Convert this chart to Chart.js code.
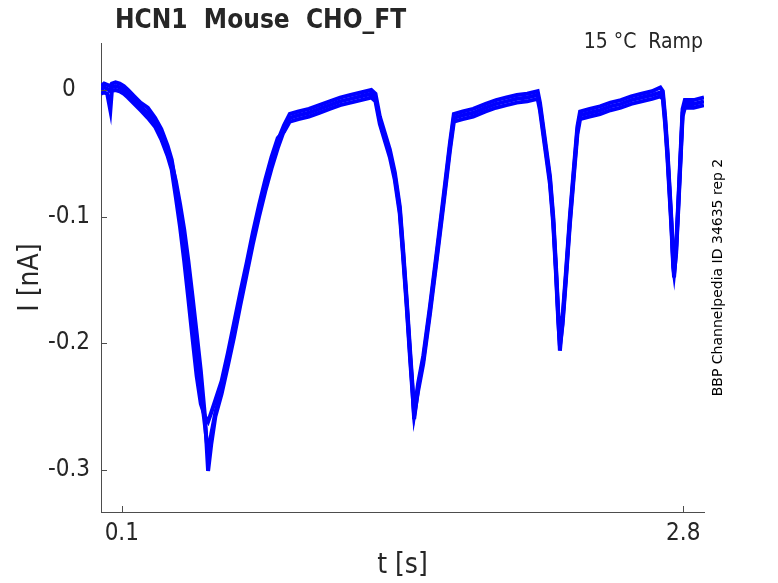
<!DOCTYPE html>
<html lang="en">
<head>
    <meta charset="UTF-8">
    <script src="https://cdn.jsdelivr.net/npm/chart.js"></script>
    <title>HCN1 Mouse CHO_FT</title>
    <style>
        body {
            margin: 0;
            background: #ffffff;
            overflow: hidden;
        }
    </style>
</head>
<body>
<canvas id="myChart" width="778" height="583"></canvas>
<script>
    // sample times [s], shared by the three sweeps
    const times = [
        0.000, 0.015, 0.030, 0.045, 0.052, 0.070, 0.090, 0.110, 0.130, 0.160,
        0.190, 0.225, 0.260, 0.290, 0.320, 0.340, 0.360, 0.380, 0.400, 0.420,
        0.440, 0.460, 0.480, 0.500, 0.515, 0.530, 0.550, 0.580, 0.610, 0.640,
        0.670, 0.700, 0.730, 0.760, 0.790, 0.820, 0.850, 0.880, 0.908, 0.950,
        1.000, 1.050, 1.100, 1.150, 1.200, 1.250, 1.300, 1.320, 1.341, 1.365,
        1.389, 1.413, 1.437, 1.453, 1.470, 1.486, 1.497, 1.506, 1.526, 1.550,
        1.582, 1.614, 1.646, 1.678, 1.697, 1.740, 1.790, 1.850, 1.900, 1.950,
        2.000, 2.050, 2.100, 2.111, 2.135, 2.159, 2.175, 2.188, 2.199, 2.207,
        2.220, 2.236, 2.255, 2.275, 2.291, 2.304, 2.350, 2.400, 2.450, 2.500,
        2.550, 2.600, 2.650, 2.690, 2.702, 2.713, 2.724, 2.733, 2.743, 2.752,
        2.756, 2.766, 2.777, 2.788, 2.797, 2.808, 2.850, 2.900
    ];

    // current [nA], sweep 1 (deepest first dip)
    const sweepA = [
        0.000, 0.002, 0.001, -0.001, 0.002, 0.003, 0.002, 0.000, -0.003, -0.008,
        -0.013, -0.018, -0.026, -0.035, -0.048, -0.058, -0.072, -0.090, -0.110, -0.135,
        -0.163, -0.192, -0.222, -0.258, -0.301, -0.280, -0.258, -0.240, -0.218, -0.195,
        -0.170, -0.146, -0.122, -0.100, -0.080, -0.062, -0.046, -0.032, -0.022, -0.020,
        -0.018, -0.015, -0.012, -0.009, -0.007, -0.005, -0.003, -0.006, -0.024, -0.037,
        -0.050, -0.068, -0.095, -0.129, -0.168, -0.208, -0.234, -0.260, -0.234, -0.213,
        -0.174, -0.132, -0.089, -0.045, -0.022, -0.020, -0.018, -0.014, -0.011, -0.009,
        -0.007, -0.006, -0.004, -0.013, -0.042, -0.071, -0.103, -0.142, -0.179, -0.206,
        -0.182, -0.147, -0.103, -0.063, -0.032, -0.020, -0.018, -0.016, -0.013, -0.011,
        -0.008, -0.006, -0.004, -0.002, -0.004, -0.024, -0.050, -0.076, -0.105, -0.137,
        -0.148, -0.126, -0.089, -0.050, -0.018, -0.011, -0.011, -0.009
    ];

    // sweep 2
    const sweepB = [
        0.003, 0.005, 0.004, 0.003, 0.005, 0.006, 0.005, 0.003, 0.000, -0.005,
        -0.010, -0.014, -0.022, -0.031, -0.044, -0.055, -0.075, -0.100, -0.126, -0.152,
        -0.180, -0.208, -0.238, -0.265, -0.287, -0.272, -0.255, -0.236, -0.213, -0.188,
        -0.164, -0.140, -0.117, -0.095, -0.074, -0.056, -0.040, -0.028, -0.019, -0.017,
        -0.015, -0.012, -0.009, -0.006, -0.004, -0.002, 0.000, -0.003, -0.021, -0.034,
        -0.047, -0.065, -0.092, -0.126, -0.165, -0.205, -0.231, -0.254, -0.231, -0.210,
        -0.171, -0.129, -0.086, -0.042, -0.019, -0.017, -0.015, -0.011, -0.008, -0.006,
        -0.004, -0.003, -0.001, -0.010, -0.039, -0.068, -0.100, -0.139, -0.176, -0.198,
        -0.179, -0.144, -0.100, -0.060, -0.029, -0.017, -0.015, -0.013, -0.010, -0.008,
        -0.005, -0.003, -0.001, 0.002, -0.001, -0.021, -0.047, -0.073, -0.102, -0.134,
        -0.142, -0.123, -0.086, -0.047, -0.015, -0.008, -0.008, -0.006
    ];

    // sweep 3 (shallowest first dip)
    const sweepC = [
        -0.003, -0.002, -0.003, -0.016, -0.001, 0.000, -0.001, -0.003, -0.006, -0.011,
        -0.016, -0.022, -0.029, -0.039, -0.052, -0.063, -0.085, -0.108, -0.135, -0.165,
        -0.196, -0.226, -0.248, -0.258, -0.262, -0.255, -0.245, -0.230, -0.208, -0.184,
        -0.160, -0.137, -0.113, -0.091, -0.071, -0.053, -0.038, -0.033, -0.025, -0.023,
        -0.021, -0.018, -0.015, -0.012, -0.010, -0.008, -0.006, -0.009, -0.027, -0.040,
        -0.053, -0.071, -0.098, -0.132, -0.171, -0.211, -0.237, -0.257, -0.237, -0.216,
        -0.177, -0.135, -0.092, -0.048, -0.025, -0.023, -0.021, -0.017, -0.014, -0.012,
        -0.010, -0.009, -0.007, -0.016, -0.045, -0.074, -0.106, -0.145, -0.182, -0.202,
        -0.185, -0.150, -0.106, -0.066, -0.035, -0.023, -0.021, -0.019, -0.016, -0.014,
        -0.011, -0.009, -0.007, -0.005, -0.007, -0.027, -0.053, -0.079, -0.108, -0.140,
        -0.145, -0.129, -0.092, -0.053, -0.021, -0.014, -0.014, -0.012
    ];

    const xTicks = [0.1, 2.8];
    const yTicks = [0, -0.1, -0.2, -0.3];

    const textColor = '#262626';
    const axisColor = '#4d4d4d';
    const family = "'DejaVu Sans Condensed', 'DejaVu Sans', sans-serif";

    function sweep(values) {
        return {
            data: times.map((t, i) => ({x: t, y: values[i]})),
            borderColor: '#0000ff',
            borderWidth: 4,
            pointRadius: 0,
            fill: false,
            tension: 0
        };
    }

    // matlab style ticks pointing into the axes + the extra texts
    const extras = {
        id: 'extras',
        afterDraw(chart) {
            const ctx = chart.ctx;
            const xs = chart.scales.x;
            const ys = chart.scales.y;
            const area = chart.chartArea;
            ctx.save();
            ctx.strokeStyle = axisColor;
            ctx.lineWidth = 1;
            ctx.beginPath();
            xTicks.forEach(v => {
                const px = Math.round(xs.getPixelForValue(v)) + 0.5;
                ctx.moveTo(px, area.bottom);
                ctx.lineTo(px, area.bottom - 6);
            });
            yTicks.forEach(v => {
                const py = Math.round(ys.getPixelForValue(v)) + 0.5;
                ctx.moveTo(area.left, py);
                ctx.lineTo(area.left + 6, py);
            });
            ctx.stroke();

            ctx.fillStyle = textColor;
            ctx.textBaseline = 'alphabetic';
            ctx.font = 'bold 26px ' + family;
            ctx.textAlign = 'left';
            ctx.fillText('HCN1  Mouse  CHO_FT', 115, 28);

            ctx.font = '21px ' + family;
            ctx.textAlign = 'right';
            ctx.fillText('15 °C  Ramp', 703, 48);

            ctx.font = "14px 'DejaVu Sans', sans-serif";
            ctx.textAlign = 'center';
            ctx.translate(722, (area.top + area.bottom) / 2);
            ctx.rotate(-Math.PI / 2);
            ctx.fillStyle = '#000000';
            ctx.fillText('BBP Channelpedia ID 34635 rep 2', 0, 0);
            ctx.restore();
        }
    };

    new Chart(document.getElementById('myChart'), {
        type: 'line',
        data: {
            datasets: [sweep(sweepA), sweep(sweepB), sweep(sweepC)]
        },
        options: {
            responsive: false,
            animation: false,
            devicePixelRatio: 1,
            layout: {
                padding: {top: 43, right: 74, bottom: 0, left: 0}
            },
            plugins: {
                legend: {display: false},
                tooltip: {enabled: false}
            },
            scales: {
                x: {
                    type: 'linear',
                    min: 0,
                    max: 2.9,
                    afterBuildTicks: s => { s.ticks = xTicks.map(v => ({value: v})); },
                    afterFit: s => { s.height = 71; },
                    grid: {display: false, drawTicks: false},
                    border: {display: true, color: axisColor, width: 1},
                    ticks: {
                        autoSkip: false,
                        maxRotation: 0,
                        padding: 7,
                        color: textColor,
                        font: {family: family, size: 24},
                        callback: v => v.toFixed(1)
                    },
                    title: {
                        display: true,
                        text: 't [s]',
                        color: textColor,
                        font: {family: family, size: 28},
                        padding: {top: 0, bottom: 0}
                    }
                },
                y: {
                    min: -0.3334,
                    max: 0.0371,
                    afterBuildTicks: s => { s.ticks = yTicks.map(v => ({value: v})); },
                    afterFit: s => { s.width = 101; },
                    grid: {display: false, drawTicks: false},
                    border: {display: true, color: axisColor, width: 1},
                    ticks: {
                        autoSkip: false,
                        crossAlign: 'center',
                        padding: 11,
                        color: textColor,
                        font: {family: family, size: 24},
                        callback: v => (v === 0 ? '0' : v.toFixed(1))
                    },
                    title: {
                        display: true,
                        text: 'I [nA]',
                        color: textColor,
                        font: {family: family, size: 28},
                        padding: {top: 14, bottom: 0}
                    }
                }
            }
        },
        plugins: [extras]
    });
</script>
</body>
</html>
